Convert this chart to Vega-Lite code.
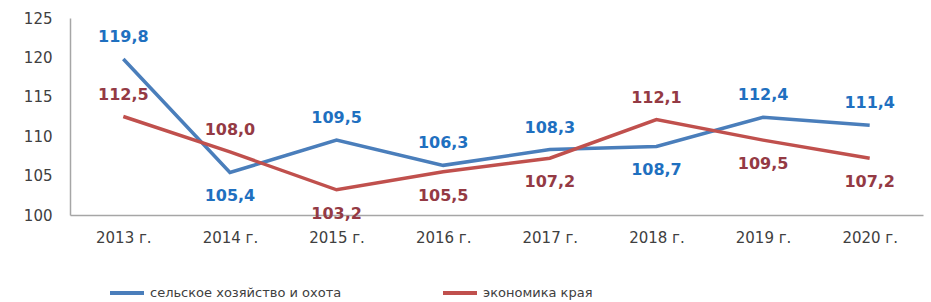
{
  "$schema": "https://vega.github.io/schema/vega-lite/v6.json",
  "width": 853,
  "height": 197,
  "autosize": "none",
  "padding": {"left": 70, "top": 18, "right": 8, "bottom": 87},
  "background": "white",
  "config": {
    "view": {"stroke": null},
    "font": "DejaVu Sans",
    "locale": {"number": {"decimal": ",", "thousands": " ", "grouping": [3], "currency": ["", " ₽"]}}
  },
  "data": {
    "values": [
      {"year": "2013 г.", "series": "сельское хозяйство и охота", "value": 119.8},
      {"year": "2014 г.", "series": "сельское хозяйство и охота", "value": 105.4},
      {"year": "2015 г.", "series": "сельское хозяйство и охота", "value": 109.5},
      {"year": "2016 г.", "series": "сельское хозяйство и охота", "value": 106.3},
      {"year": "2017 г.", "series": "сельское хозяйство и охота", "value": 108.3},
      {"year": "2018 г.", "series": "сельское хозяйство и охота", "value": 108.7},
      {"year": "2019 г.", "series": "сельское хозяйство и охота", "value": 112.4},
      {"year": "2020 г.", "series": "сельское хозяйство и охота", "value": 111.4},
      {"year": "2013 г.", "series": "экономика края", "value": 112.5},
      {"year": "2014 г.", "series": "экономика края", "value": 108.0},
      {"year": "2015 г.", "series": "экономика края", "value": 103.2},
      {"year": "2016 г.", "series": "экономика края", "value": 105.5},
      {"year": "2017 г.", "series": "экономика края", "value": 107.2},
      {"year": "2018 г.", "series": "экономика края", "value": 112.1},
      {"year": "2019 г.", "series": "экономика края", "value": 109.5},
      {"year": "2020 г.", "series": "экономика края", "value": 107.2}
    ]
  },
  "encoding": {
    "x": {
      "field": "year", "type": "ordinal", "sort": null,
      "axis": {"title": null, "labelAngle": 0, "ticks": false, "domainColor": "#A6A6A6", "domainWidth": 1.5, "labelFontSize": 15, "labelColor": "#404040", "labelPadding": 15}
    },
    "y": {
      "field": "value", "type": "quantitative",
      "scale": {"domain": [100, 125], "nice": false, "zero": false},
      "axis": {"title": null, "values": [100, 105, 110, 115, 120, 125], "grid": false, "ticks": false, "domainColor": "#A6A6A6", "domainWidth": 1.5, "labelFontSize": 15, "labelColor": "#404040", "labelPadding": 18}
    }
  },
  "layer": [
    {
      "mark": {"type": "line", "strokeWidth": 3.5},
      "encoding": {
        "color": {
          "field": "series", "type": "nominal",
          "scale": {"domain": ["сельское хозяйство и охота", "экономика края"], "range": ["#4A7EBB", "#C0504D"]},
          "legend": {
            "title": null, "orient": "none", "direction": "horizontal",
            "legendX": 38, "legendY": 256,
            "symbolType": "stroke", "symbolSize": 1156, "symbolStrokeWidth": 4,
            "labelFontSize": 13, "labelColor": "#404040", "labelLimit": 400,
            "columnPadding": 93
          }
        }
      }
    },
    {
      "transform": [{"filter": "!((datum.series == 'сельское хозяйство и охота' && (datum.year == '2014 г.' || datum.year == '2018 г.')) || (datum.series == 'экономика края' && indexof(['2015 г.','2016 г.','2017 г.','2019 г.','2020 г.'], datum.year) >= 0))"}],
      "mark": {"type": "text", "fontWeight": "bold", "fontSize": 16, "dy": -22},
      "encoding": {
        "text": {"field": "value", "type": "quantitative", "format": ".1f"},
        "color": {"condition": {"test": "datum.series == 'экономика края'", "value": "#943A44"}, "value": "#1F70C0"}
      }
    },
    {
      "transform": [{"filter": "(datum.series == 'сельское хозяйство и охота' && (datum.year == '2014 г.' || datum.year == '2018 г.')) || (datum.series == 'экономика края' && indexof(['2015 г.','2016 г.','2017 г.','2019 г.','2020 г.'], datum.year) >= 0)"}],
      "mark": {"type": "text", "fontWeight": "bold", "fontSize": 16, "dy": 24},
      "encoding": {
        "text": {"field": "value", "type": "quantitative", "format": ".1f"},
        "color": {"condition": {"test": "datum.series == 'экономика края'", "value": "#943A44"}, "value": "#1F70C0"}
      }
    }
  ]
}
